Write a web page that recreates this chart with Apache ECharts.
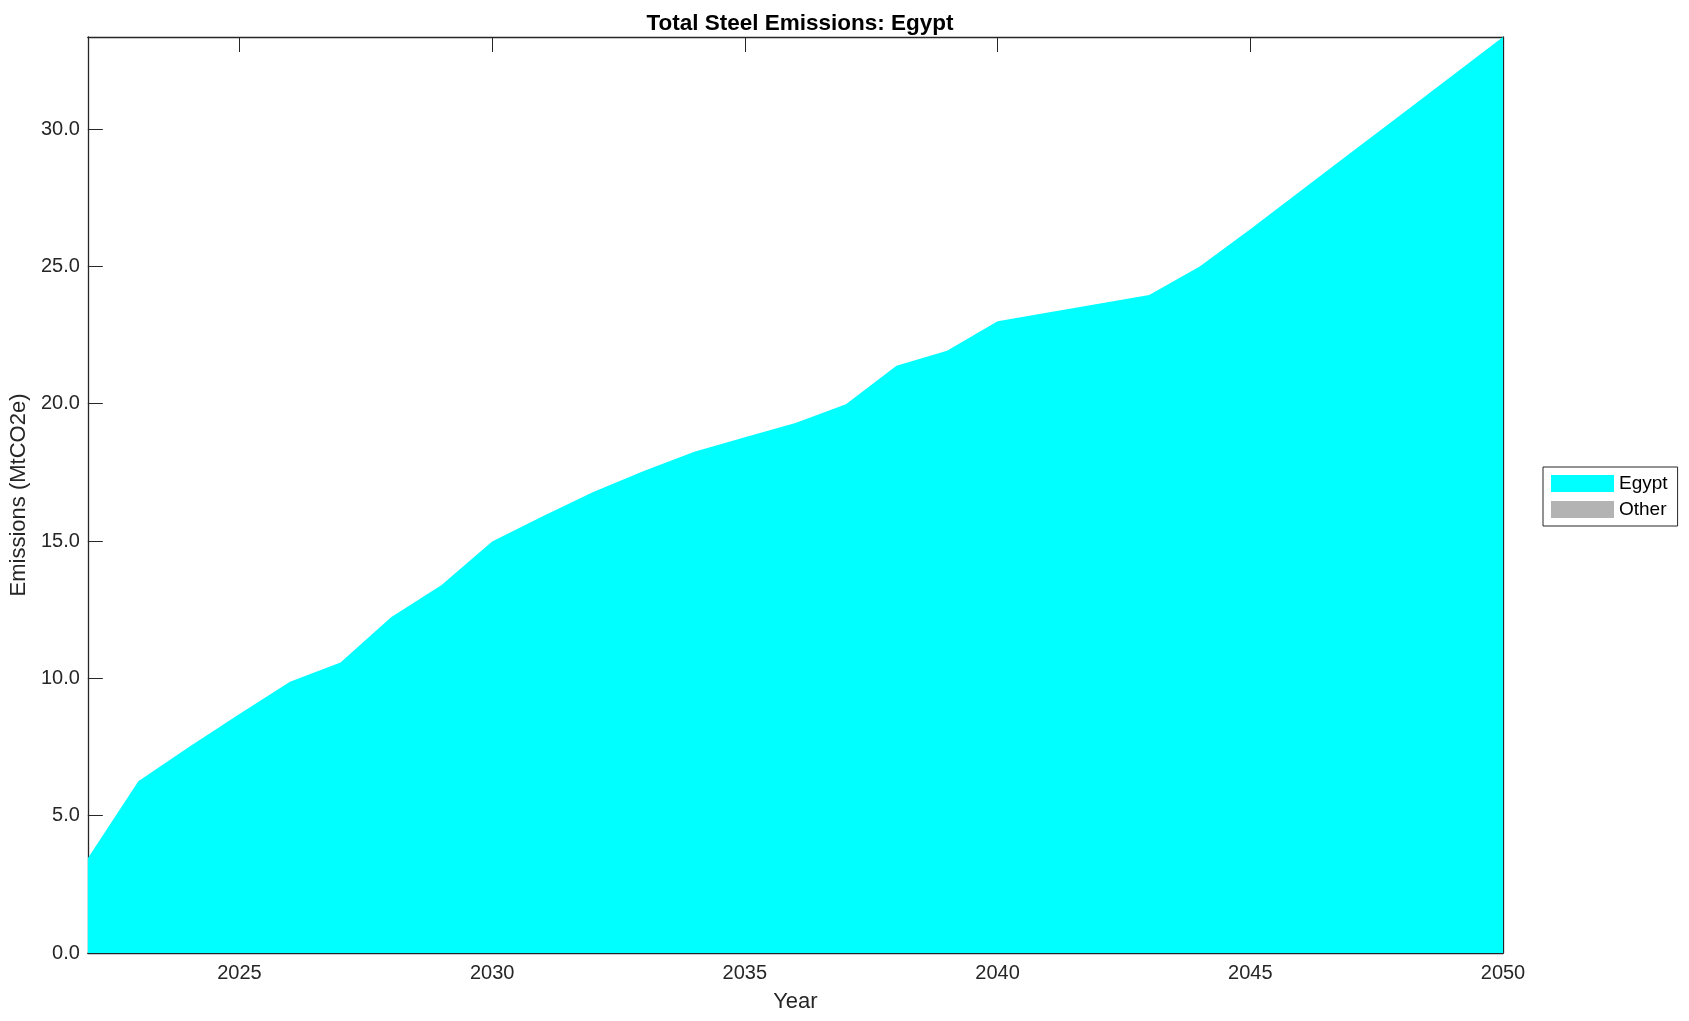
<!DOCTYPE html>
<html>
<head>
<meta charset="utf-8">
<script src="https://cdn.jsdelivr.net/npm/echarts@6/dist/echarts.min.js"></script>
<style>
html,body{margin:0;padding:0;background:#fff;}
#chart{width:1689px;height:1021px;}
</style>
</head>
<body>
<div id="chart"></div>
<script>
const years = [2022,2023,2024,2025,2026,2027,2028,2029,2030,2031,2032,2033,2034,2035,2036,2037,2038,2039,2040,2041,2042,2043,2044,2045,2046,2047,2048,2049,2050];
const egypt = [3.45,6.25,7.5,8.7,9.88,10.58,12.22,13.4,14.98,15.9,16.78,17.55,18.25,18.78,19.3,19.98,21.38,21.93,23.0,23.32,23.64,23.96,24.99,26.35,27.75,29.15,30.55,31.95,33.35];
const other = [0,0,0,0,0,0,0,0,0,0,0,0,0,0,0,0,0,0,0,0,0,0,0,0,0,0,0,0,0];
const xTicks = [2025,2030,2035,2040,2045,2050];
const yTicks = [0,5,10,15,20,25,30];

const FONT = '"Liberation Sans", Arial, Helvetica, sans-serif';
const AX = '#262626';
const yMax = Math.max.apply(null, egypt.map((v,i)=>v+other[i]));

const chart = echarts.init(document.getElementById('chart'), null, {renderer:'canvas'});
const baseX = {
  type:'value', min:2022, max:2050,
  axisLine:{show:true,onZero:false,lineStyle:{color:AX,width:1.3}},
  axisTick:{show:true,inside:true,length:15,customValues:xTicks,lineStyle:{color:AX,width:1}},
  splitLine:{show:false}
};
const baseY = {
  type:'value', min:0, max:yMax,
  axisLine:{show:true,lineStyle:{color:AX,width:1.3}},
  axisTick:{show:true,inside:true,length:15,customValues:yTicks,lineStyle:{color:AX,width:1}},
  splitLine:{show:false}
};
chart.setOption({
  backgroundColor:'#fff',
  animation:false,
  title:{
    text:'Total Steel Emissions: Egypt',
    left:795, top:7, textAlign:'center',
    textStyle:{fontFamily:FONT,fontSize:22.5,fontWeight:'bold',color:'#000'}
  },
  grid:{left:87,right:186,top:37,bottom:68,containLabel:false},
  legend:{
    orient:'vertical', left:1543, top:467,
    data:['Egypt','Other'],
    icon:'rect', itemWidth:63, itemHeight:17, itemGap:7,
    padding:[7,10,7,8],
    borderColor:AX, borderWidth:1, backgroundColor:'#fff',
    textStyle:{fontFamily:FONT,fontSize:19,color:'#000'}
  },
  xAxis:[
    Object.assign({}, baseX, {
      position:'bottom', name:'Year', nameLocation:'middle', nameGap:38,
      nameTextStyle:{fontFamily:FONT,fontSize:22,color:AX},
      axisLabel:{show:true,customValues:xTicks,margin:10,fontFamily:FONT,fontSize:20,color:AX,
        formatter:v=>String(v)}
    }),
    Object.assign({}, baseX, {position:'top', axisLabel:{show:false}})
  ],
  yAxis:[
    Object.assign({}, baseY, {
      position:'left', name:'Emissions (MtCO2e)', nameLocation:'middle', nameGap:54,
      nameTextStyle:{fontFamily:FONT,fontSize:22,color:AX},
      axisLabel:{show:true,customValues:yTicks,margin:8,fontFamily:FONT,fontSize:20,color:AX,
        formatter:v=>v.toFixed(1)}
    }),
    Object.assign({}, baseY, {position:'right', axisLabel:{show:false}})
  ],
  series:[
    {
      name:'Egypt', type:'line', stack:'total', xAxisIndex:0, yAxisIndex:0,
      data:years.map((y,i)=>[y,egypt[i]]),
      showSymbol:false, symbol:'none',
      lineStyle:{width:0,color:'#00FFFF'},
      itemStyle:{color:'#00FFFF'},
      areaStyle:{color:'#00FFFF',opacity:1}
    },
    {
      name:'Other', type:'line', stack:'total', xAxisIndex:0, yAxisIndex:0,
      data:years.map((y,i)=>[y,other[i]]),
      showSymbol:false, symbol:'none',
      lineStyle:{width:0,color:'#B3B3B3'},
      itemStyle:{color:'#B3B3B3'},
      areaStyle:{color:'#B3B3B3',opacity:1}
    }
  ]
});
</script>
</body>
</html>
